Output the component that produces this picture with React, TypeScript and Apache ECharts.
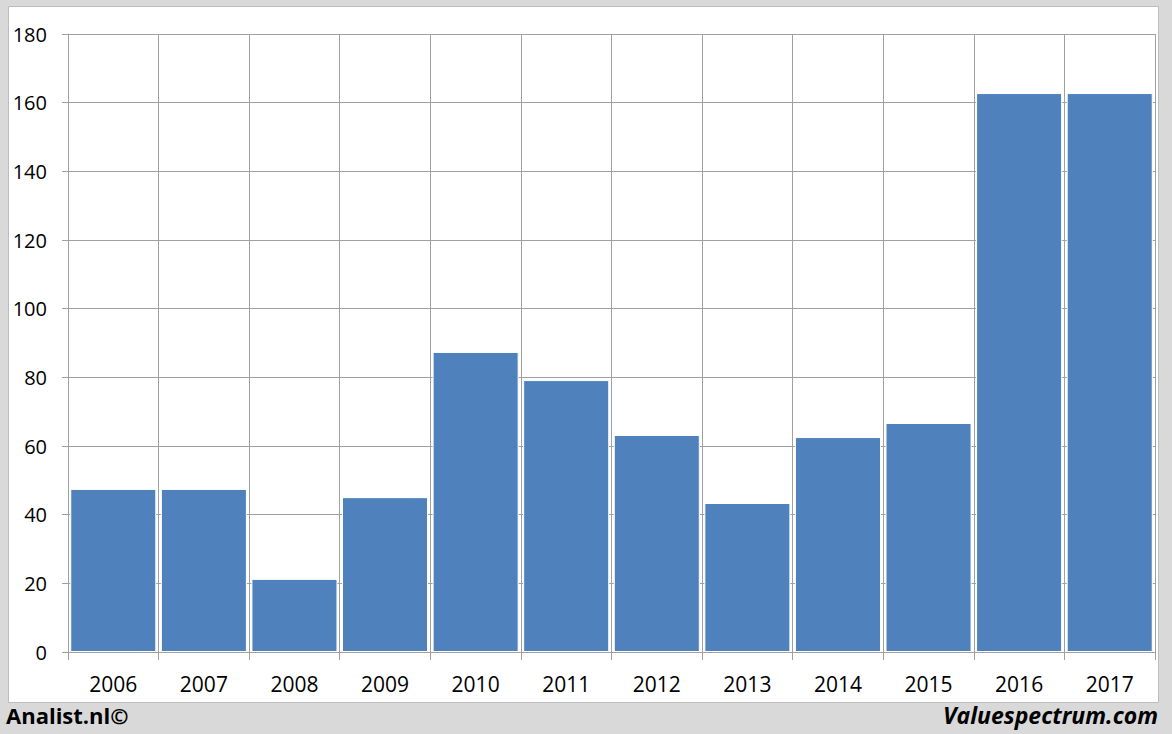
import React, { useEffect, useRef } from "react";
import * as echarts from "echarts";

const years = ["2006","2007","2008","2009","2010","2011","2012","2013","2014","2015","2016","2017"];
const values = [47.5, 47.5, 21.3, 45.1, 87.4, 79.2, 63.2, 43.4, 62.6, 66.7, 162.8, 162.8];
const leftFooter = "Analist.nl©";
const rightFooter = "Valuespectrum.com";

export default function App() {
  const ref = useRef<HTMLDivElement>(null);
  useEffect(() => {
    const chart = echarts.init(ref.current!, null, { renderer: "svg" });
    chart.setOption({
      animation: false,
      backgroundColor: "#d9d9d9",
      graphic: [
        { type: "rect", z: -10, shape: { x: 8.5, y: 6.5, width: 1150, height: 696 }, style: { fill: "#ffffff", stroke: "#bdbdbd", lineWidth: 1 } },
        { type: "text", left: 6, top: 704, style: { text: leftFooter, font: "bold 22px 'Open Sans', 'Liberation Sans', sans-serif", fill: "#000" } },
        { type: "text", right: 14, top: 703, style: { text: rightFooter, font: "italic bold 23px 'Open Sans', 'Liberation Sans', sans-serif", fill: "#000" } }
      ],
      grid: { left: 68, right: 17, top: 34, bottom: 82, containLabel: false },
      xAxis: {
        type: "category",
        data: years,
        boundaryGap: true,
        axisLine: { show: true, lineStyle: { color: "#a0a0a0", width: 1 } },
        axisTick: { show: true, alignWithLabel: false, length: 8, lineStyle: { color: "#a0a0a0" } },
        splitLine: { show: true, lineStyle: { color: "#a0a0a0", width: 1 } },
        axisLabel: { color: "#000", fontSize: 21, margin: 21, fontFamily: "'Open Sans', 'Liberation Sans', sans-serif" }
      },
      yAxis: {
        type: "value",
        min: 0,
        max: 180,
        interval: 20,
        axisLine: { show: true, lineStyle: { color: "#a0a0a0" } },
        axisTick: { show: true, length: 6, lineStyle: { color: "#a0a0a0" } },
        splitLine: { show: true, lineStyle: { color: "#a0a0a0", width: 1 } },
        axisLabel: { color: "#000", fontSize: 20, margin: 21, fontFamily: "'Open Sans', 'Liberation Sans', sans-serif" }
      },
      series: [
        {
          type: "bar",
          data: values,
          barCategoryGap: "5%",
          itemStyle: { color: "#4f81bd", borderColor: "#ffffff", borderWidth: 1 }
        }
      ]
    });
    return () => chart.dispose();
  }, []);
  return <div ref={ref} style={{ position: "absolute", left: 0, top: 0, width: 1172, height: 734 }} />;
}
